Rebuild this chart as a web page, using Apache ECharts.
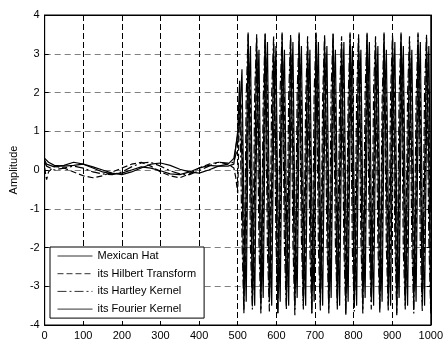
<!DOCTYPE html>
<html>
<head>
<meta charset="utf-8">
<script src="https://cdn.jsdelivr.net/npm/echarts@6/dist/echarts.min.js"></script>
<style>
html,body{margin:0;padding:0;background:#fff;}
#chart{width:446px;height:342px;}
</style>
</head>
<body>
<div id="chart"></div>
<script>
// ---- data ----
var seriesNames = ['Mexican Hat', 'its Hilbert Transform', 'its Hartley Kernel', 'its Fourier Kernel'];
var xTicks = [0, 100, 200, 300, 400, 500, 600, 700, 800, 900, 1000];
var yTicks = [-4, -3, -2, -1, 0, 1, 2, 3, 4];

// quiet part (x < 500)
var xLow = [0, 5, 10, 25, 50, 75, 100, 125, 150, 175, 200, 225, 250, 275, 300, 325, 350, 375, 400, 425, 450, 475, 490, 495, 500];
var hatLow = [0.3, 0.25, 0.2, 0.12, 0.1, 0.12, 0.15, 0.08, 0.0, -0.08, -0.12, -0.05, 0.05, 0.15, 0.18, 0.12, 0.02, -0.05, -0.08, 0.0, 0.1, 0.15, 0.3, 0.6, 1.0];
var hilbertLow = [0.05, -0.25, -0.05, 0.1, 0.05, -0.05, -0.15, -0.2, -0.15, -0.05, 0.05, 0.15, 0.2, 0.1, -0.05, -0.15, -0.2, -0.1, 0.05, 0.15, 0.2, 0.15, 0.05, -0.2, -0.6];
var hartleyLow = [0.2, 0.1, 0.05, 0.0, 0.05, 0.1, 0.05, -0.05, -0.1, -0.12, -0.05, 0.08, 0.18, 0.2, 0.1, -0.02, -0.1, -0.12, -0.02, 0.1, 0.2, 0.18, 0.2, 0.4, 0.5];
var fourierLow = [0.25, 0.15, 0.1, 0.08, 0.12, 0.2, 0.15, 0.05, -0.05, -0.1, -0.08, 0.0, 0.08, 0.05, -0.02, -0.1, -0.12, -0.05, 0.05, 0.12, 0.1, 0.1, 0.15, 0.6, 0.9];

// dense oscillating part (x > 500)
var xDense = [505, 511, 516, 522, 527, 533, 538, 544, 549, 555,
  560, 566, 571, 577, 582, 588, 593, 599, 604, 610,
  615, 621, 626, 632, 637, 643, 648, 654, 659, 665,
  670, 676, 681, 687, 692, 698, 703, 709, 714, 720,
  725, 731, 736, 742, 747, 753, 758, 764, 769, 775,
  780, 786, 791, 797, 802, 808, 813, 819, 824, 830,
  835, 841, 846, 852, 857, 863, 868, 874, 879, 885,
  890, 896, 901, 907, 912, 918, 923, 929, 934, 940,
  945, 951, 956, 962, 967, 973, 978, 984, 989, 995, 1000];

var hatDense = [2.3, 0.2, -3.6, -0.3, 3.5, 0.1, -3.5, -0.2, 3.4, 0.3,
  -3.6, 0.0, 3.5, -0.1, -3.4, -0.3, 3.3, 0.2, -3.7, -0.1,
  3.5, 0.0, -3.5, -0.2, 3.4, 0.2, -3.6, 0.1, 3.5, -0.2,
  -3.5, -0.1, 3.3, 0.1, -3.7, -0.3, 3.5, 0.3, -3.4, 0.0,
  3.4, 0.0, -3.6, -0.2, 3.5, 0.2, -3.5, -0.1, 3.3, -0.1,
  -3.7, 0.1, 3.5, 0.1, -3.5, -0.3, 3.4, 0.3, -3.6, -0.1,
  3.5, 0.0, -3.4, -0.2, 3.3, 0.2, -3.6, 0.0, 3.5, -0.1,
  -3.5, -0.2, 3.4, 0.1, -3.7, -0.1, 3.5, 0.2, -3.5, 0.1,
  3.3, 0.0, -3.6, -0.3, 3.5, 0.3, -3.4, -0.1, 3.4, 0.1, -3.6];

var hilbertDense = [1.8, 1.6, -3.0, -2.0, 3.1, 2.0, -3.3, -2.1, 3.0, 1.8,
  -3.1, -1.9, 3.2, 2.1, -3.2, -2.2, 2.9, 1.9, -3.3, -2.0,
  3.1, 1.8, -3.1, -2.1, 3.0, 2.0, -3.2, -1.9, 3.2, 1.9,
  -3.3, -2.2, 2.9, 1.7, -3.1, -2.0, 3.1, 2.1, -3.2, -1.9,
  3.0, 1.9, -3.3, -2.1, 3.2, 1.8, -3.1, -2.0, 2.9, 2.0,
  -3.2, -1.9, 3.1, 1.9, -3.3, -2.2, 3.0, 2.1, -3.1, -2.0,
  3.2, 1.8, -3.2, -1.9, 2.9, 2.0, -3.3, -2.1, 3.1, 1.9,
  -3.1, -2.0, 3.0, 1.7, -3.2, -2.2, 3.2, 2.1, -3.3, -1.9,
  2.9, 1.9, -3.1, -2.0, 3.1, 2.0, -3.2, -2.1, 3.0, 1.8, -3.3];

var hartleyDense = [2.0, -1.8, -3.7, 1.9, 3.55, -2.0, -3.6, 2.0, 3.5, -1.9,
  -3.7, 1.8, 3.55, -2.1, -3.65, 2.0, 3.45, -1.8, -3.7, 2.1,
  3.55, -2.0, -3.6, 1.9, 3.5, -1.9, -3.75, 2.0, 3.55, -1.8,
  -3.6, 1.8, 3.45, -2.1, -3.7, 2.0, 3.55, -2.0, -3.65, 1.9,
  3.5, -1.8, -3.7, 2.1, 3.55, -1.9, -3.6, 2.0, 3.45, -2.0,
  -3.75, 1.8, 3.55, -2.1, -3.65, 1.9, 3.5, -1.8, -3.7, 2.0,
  3.55, -2.0, -3.6, 2.1, 3.45, -1.9, -3.7, 1.8, 3.55, -2.0,
  -3.65, 2.0, 3.5, -1.8, -3.75, 1.9, 3.55, -2.1, -3.6, 2.0,
  3.45, -1.9, -3.7, 1.8, 3.55, -2.0, -3.65, 2.1, 3.5, -1.8, -3.7];

var fourierDense = [1.2, 2.6, -1.0, -3.4, 1.2, 3.2, -1.1, -3.5, 1.1, 3.1,
  -1.0, -3.3, 1.3, 3.3, -1.2, -3.5, 1.0, 3.2, -1.1, -3.4,
  1.2, 3.1, -1.0, -3.5, 1.1, 3.3, -1.2, -3.3, 1.3, 3.2,
  -1.1, -3.5, 1.0, 3.1, -1.0, -3.4, 1.2, 3.3, -1.2, -3.5,
  1.1, 3.2, -1.1, -3.3, 1.3, 3.1, -1.0, -3.5, 1.0, 3.3,
  -1.2, -3.4, 1.2, 3.2, -1.1, -3.5, 1.1, 3.1, -1.0, -3.3,
  1.3, 3.3, -1.2, -3.5, 1.0, 3.2, -1.1, -3.4, 1.2, 3.1,
  -1.0, -3.5, 1.1, 3.3, -1.2, -3.3, 1.3, 3.2, -1.1, -3.5,
  1.0, 3.1, -1.0, -3.4, 1.2, 3.3, -1.2, -3.5, 1.1, 3.2, -1.1];

// ---- build chart ----
var xs = xLow.concat(xDense);
function pairs(low, dense) {
  var v = low.concat(dense);
  return xs.map(function (x, i) { return [x, v[i]]; });
}
var allValues = [
  pairs(hatLow, hatDense),
  pairs(hilbertLow, hilbertDense),
  pairs(hartleyLow, hartleyDense),
  pairs(fourierLow, fourierDense)
];
var lineTypes = ['solid', [6, 3], [9, 3, 2, 3], 'solid'];

var font = "'Liberation Sans', Arial, sans-serif";
var chart = echarts.init(document.getElementById('chart'), null, {renderer: 'canvas'});

function plain(v) { return String(v); }
var axisCommon = {
  type: 'value',
  axisLine: {show: true, onZero: false, lineStyle: {color: '#000', width: 1}},
  axisTick: {show: true, inside: true, length: 4, lineStyle: {color: '#000'}},
  axisLabel: {color: '#000', fontSize: 11, fontFamily: font},
  splitLine: {show: false}
};

chart.setOption({
  animation: false,
  backgroundColor: '#fff',
  grid: {left: 42, right: 14, top: 15, bottom: 17, show: true, borderColor: '#000', borderWidth: 1, backgroundColor: 'transparent'},
  legend: {
    data: seriesNames,
    orient: 'vertical',
    left: 50, top: 247,
    padding: [3, 8, 3, 7],
    itemWidth: 35, itemHeight: 12, itemGap: 5.7, itemTextGap: 5,
    itemStyle: {opacity: 0},
    lineStyle: {width: 1, color: '#333'},
    backgroundColor: '#fff',
    borderColor: '#000', borderWidth: 1, borderRadius: 0,
    textStyle: {color: '#000', fontSize: 11, fontFamily: font, lineHeight: 12},
    selectedMode: false
  },
  xAxis: [
    Object.assign({}, axisCommon, {
      position: 'bottom', min: xTicks[0], max: xTicks[xTicks.length - 1], interval: 100,
      axisLabel: {color: '#000', fontSize: 11, fontFamily: font, margin: 5, formatter: plain},
      splitLine: {show: true, lineStyle: {color: '#000', type: [6, 3], width: 1}}
    }),
    Object.assign({}, axisCommon, {
      position: 'top', min: xTicks[0], max: xTicks[xTicks.length - 1], interval: 100,
      axisLabel: {show: false}
    })
  ],
  yAxis: [
    Object.assign({}, axisCommon, {
      position: 'left', min: yTicks[0], max: yTicks[yTicks.length - 1], interval: 1,
      name: 'Amplitude', nameLocation: 'middle', nameGap: 22, nameRotate: 90,
      nameTextStyle: {color: '#000', fontSize: 11, fontFamily: font},
      axisLabel: {color: '#000', fontSize: 11, fontFamily: font, margin: 5, formatter: plain},
      splitLine: {show: true, lineStyle: {color: '#808080', type: [6, 4], width: 1}}
    }),
    Object.assign({}, axisCommon, {
      position: 'right', min: yTicks[0], max: yTicks[yTicks.length - 1], interval: 1,
      axisLabel: {show: false}
    })
  ],
  series: seriesNames.map(function (name, k) {
    return {
      name: name,
      type: 'line',
      xAxisIndex: 0, yAxisIndex: 0,
      data: allValues[k],
      symbol: 'none', showSymbol: false,
      silent: true,
      lineStyle: {color: '#000', width: 1.2, type: lineTypes[k]},
      itemStyle: {color: '#000'},
      emphasis: {disabled: true}
    };
  })
});
</script>
</body>
</html>
